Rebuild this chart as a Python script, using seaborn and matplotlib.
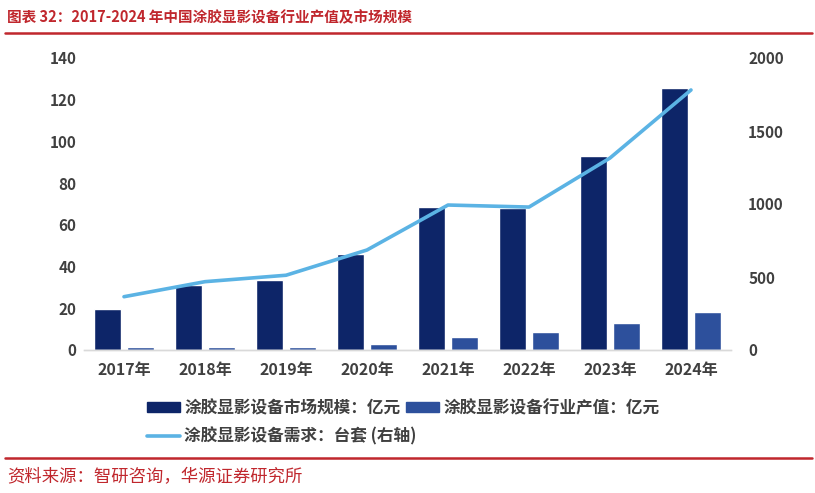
import matplotlib
matplotlib.use("Agg")
import matplotlib.pyplot as plt
from matplotlib.patches import Patch
from matplotlib.lines import Line2D
import seaborn as sns
import pandas as pd
import numpy as np

# data
years = ["2017年", "2018年", "2019年", "2020年", "2021年", "2022年", "2023年", "2024年"]
market_size = [19.6, 31.3, 33.5, 46.0, 68.8, 68.3, 93.0, 125.5]   # 亿元
output_value = [1.3, 1.3, 1.3, 3.0, 6.4, 8.7, 12.8, 18.1]         # 亿元
demand = [365, 468, 512, 685, 993, 979, 1315, 1781]             # 台套 (right axis)

name_market = "涂胶显影设备市场规模：亿元"
name_output = "涂胶显影设备行业产值：亿元"
name_demand = "涂胶显影设备需求：台套 (右轴)"

c_dark = "#0D2568"
c_mid = "#2D509C"
c_line = "#5BB3E4"
c_red = "#C0272D"
c_text = "#404040"

sns.set_theme(style="white")
plt.rcParams["font.family"] = ["Noto Sans CJK SC", "DejaVu Sans"]

df = pd.DataFrame({
    "year": years * 2,
    "value": market_size + output_value,
    "series": [name_market] * len(years) + [name_output] * len(years),
})

fig = plt.figure(figsize=(8.15, 4.93), dpi=100)
ax = fig.add_axes([83.5 / 815, 1 - 350 / 493, 648 / 815, (350 - 58) / 493])

sns.barplot(data=df, x="year", y="value", hue="series",
            palette=[c_dark, c_mid], width=0.8, gap=0.17,
            saturation=1, ax=ax, legend=False)
ax.set_ylim(0, 140)
ax.set_yticks(np.arange(0, 141, 20))
ax.set_xlim(-0.5, len(years) - 0.5)
ax.set_xlabel("")
ax.set_ylabel("")

ax2 = ax.twinx()
sns.lineplot(x=np.arange(len(years)), y=demand, color=c_line, linewidth=2.6, ax=ax2)
ax2.set_ylim(0, 2000)
ax2.set_yticks(np.arange(0, 2001, 500))
ax2.set_xlim(-0.5, len(years) - 0.5)

for a in (ax, ax2):
    for s in ["top", "left", "right"]:
        a.spines[s].set_visible(False)
    a.spines["bottom"].set_color("#D9D9D9")
    a.spines["bottom"].set_linewidth(1.0)
    a.tick_params(axis="both", length=0, labelsize=11, labelcolor=c_text)
    a.grid(False)

ax.tick_params(axis="y", pad=5)
ax.tick_params(axis="x", pad=9, labelsize=11.5)
ax2.tick_params(axis="y", pad=12)
for lab in ax.get_xticklabels() + ax.get_yticklabels() + ax2.get_yticklabels():
    lab.set_fontweight("bold")

# legend: two bar entries on first row, line alone on second
leg_kw = dict(frameon=False, handlelength=2.0, handleheight=0.6,
              handletextpad=0.25, columnspacing=0.3, loc="upper left",
              borderpad=0.0, borderaxespad=0.0,
              prop={"weight": "bold", "size": 12})
leg1 = fig.legend([Patch(color=c_dark), Patch(color=c_mid)], [name_market, name_output],
                  ncol=2, bbox_to_anchor=(147 / 815, 1 - 399 / 493), **leg_kw)
leg2 = fig.legend([Line2D([0], [0], color=c_line, lw=2.6)], [name_demand],
                  bbox_to_anchor=(147 / 815, 1 - 427 / 493), **leg_kw)
for leg in (leg1, leg2):
    for t in leg.get_texts():
        t.set_color(c_text)

# title, source and red rules
fig.text(7 / 815, 1 - 17 / 493, "图表 32：2017-2024 年中国涂胶显影设备行业产值及市场规模",
         color=c_red, fontsize=10.5, fontweight="bold", va="center", ha="left")
fig.add_artist(Line2D([5 / 815, 812 / 815], [1 - 33 / 493] * 2, color=c_red, lw=1.8))
fig.add_artist(Line2D([5 / 815, 812 / 815], [1 - 458 / 493] * 2, color=c_red, lw=1.8))
fig.text(7 / 815, 1 - 477 / 493, "资料来源：智研咨询，华源证券研究所",
         color=c_red, fontsize=12.5, va="center", ha="left")

fig.savefig("out.png", dpi=100)
